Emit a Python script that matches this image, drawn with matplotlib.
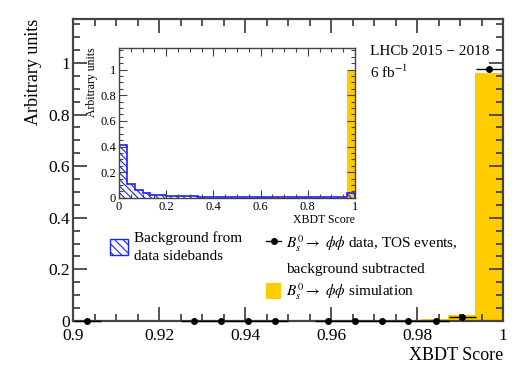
"""
XBDT score: background-subtracted data vs simulation, with inset of full range.
"""

import matplotlib.pyplot as plt
import numpy as np
from matplotlib.lines import Line2D
from matplotlib.patches import Patch
from matplotlib.ticker import MultipleLocator, FuncFormatter

plt.rcParams["font.family"] = ["Liberation Serif", "DejaVu Serif"]
plt.rcParams["mathtext.fontset"] = "stix"
plt.rcParams["hatch.linewidth"] = 0.8

YELLOW = "#ffcc00"
BLUE = "#1f1fff"
AXCOL = "#444444"

# ── Main panel: simulation histogram (zoomed 0.9 - 1) ────────────────────────
sim_edges = [0.9, 0.9064, 0.9126, 0.9188, 0.9251, 0.9313, 0.9375, 0.9437,
             0.9499, 0.9561, 0.9623, 0.9686, 0.9748, 0.9810, 0.9872, 0.9934, 1.0]
sim_vals = [0.0, 0.001, 0.001, 0.001, 0.001, 0.001, 0.001, 0.001,
            0.001, 0.001, 0.002, 0.002, 0.003, 0.006, 0.021, 0.962]

# ── Main panel: background-subtracted data points ────────────────────────────
data_x = [0.9033, 0.9282, 0.9345, 0.9407, 0.9469, 0.9593, 0.9655,
          0.9718, 0.9780, 0.9843, 0.9905, 0.9967]
data_y = [0.0, 0.0, 0.0, 0.0, 0.0, 0.0, 0.0,
          0.0, 0.0, 0.0, 0.014, 0.976]
data_xerr = [0.0031] * len(data_x)
data_yerr = [0.0, 0.0, 0.0, 0.0, 0.0, 0.0, 0.0,
             0.0, 0.0, 0.0, 0.002, 0.006]

# ── Inset: full range 0 - 1 ─────────────────────────────────────────────────
inset_edges = [i / 30 for i in range(31)]
bkg_vals = [0.415, 0.110, 0.058, 0.040, 0.026, 0.025, 0.018, 0.016, 0.013, 0.011,
            0.009, 0.008, 0.007, 0.007, 0.006, 0.006, 0.006, 0.005, 0.005, 0.005,
            0.004, 0.004, 0.005, 0.004, 0.004, 0.004, 0.004, 0.005, 0.006, 0.035]
inset_sim_vals = [0.0] * 29 + [0.985]


def fmt(v, pos):
    return f"{v:g}"


def style_axes(ax, lw, major, minor, size):
    for s in ax.spines.values():
        s.set_color(AXCOL)
        s.set_linewidth(lw)
    ax.tick_params(which="both", direction="in", top=True, right=True,
                   color=AXCOL, width=lw * 0.8, labelsize=size)
    ax.tick_params(which="major", length=major)
    ax.tick_params(which="minor", length=minor)
    ax.xaxis.set_major_formatter(FuncFormatter(fmt))
    ax.yaxis.set_major_formatter(FuncFormatter(fmt))


fig = plt.figure(figsize=(5.29, 3.82), dpi=100)
ax = fig.add_axes([0.138, 0.160, 0.813, 0.790])

ax.stairs(sim_vals, sim_edges, fill=True, color=YELLOW, lw=0)
ax.errorbar(data_x, data_y, xerr=data_xerr, yerr=data_yerr, fmt="o",
            color="black", ms=4, lw=1.0, capsize=0, zorder=5, clip_on=False)

ax.set_xlim(0.9, 1.0)
ax.set_ylim(0, 1.17)
ax.xaxis.set_major_locator(MultipleLocator(0.02))
ax.xaxis.set_minor_locator(MultipleLocator(0.005))
ax.yaxis.set_major_locator(MultipleLocator(0.2))
ax.yaxis.set_minor_locator(MultipleLocator(0.05))
style_axes(ax, 1.6, 10, 5, 12.5)
ax.tick_params(axis="x", pad=5)
ax.tick_params(axis="y", pad=2)
ax.set_xlabel("XBDT Score", fontsize=13, loc="right", labelpad=2)
ax.set_ylabel("Arbitrary units", fontsize=13, loc="top", labelpad=5)

ax.text(0.69, 0.893, "LHCb 2015 − 2018", transform=ax.transAxes,
        fontsize=11, va="center", ha="left")
ax.text(0.69, 0.822, "6 fb$^{-1}$", transform=ax.transAxes,
        fontsize=11, va="center", ha="left")

# legends
h_bkg = Patch(facecolor="none", edgecolor=BLUE, hatch="\\\\\\\\", lw=1.0)
leg1 = ax.legend([h_bkg], ["Background from\ndata sidebands"],
                 loc="upper left", bbox_to_anchor=(0.085, 0.297),
                 frameon=False, fontsize=11, borderpad=0, borderaxespad=0,
                 handlelength=1.2, handleheight=1.2, handletextpad=0.4)
leg1.get_texts()[0].set_linespacing(1.45)
ax.add_artist(leg1)

h_data = Line2D([0], [0], color="black", marker="o", ms=4, lw=1.0)
h_blank = Line2D([0], [0], color="none")
h_sim = Patch(facecolor=YELLOW, edgecolor="none")
ax.legend([h_data, h_blank, h_sim],
          [r"$B_s^0 \to\ \phi\phi$ data, TOS events,",
           "background subtracted",
           r"$B_s^0 \to\ \phi\phi$ simulation"],
          loc="upper left", bbox_to_anchor=(0.449, 0.29),
          frameon=False, fontsize=11, borderpad=0, borderaxespad=0,
          handlelength=1.0, handleheight=1.3, handletextpad=0.3,
          labelspacing=0.35)

# ── Inset ────────────────────────────────────────────────────────────────────
ins = fig.add_axes([0.225, 0.482, 0.446, 0.393])
ins.stairs(inset_sim_vals, inset_edges, fill=True, color=YELLOW, lw=0)
ins.stairs(bkg_vals, inset_edges, fill=True, facecolor="none",
           edgecolor=BLUE, hatch="\\\\\\\\\\", lw=0)
ins.stairs(bkg_vals, inset_edges, color=BLUE, lw=1.2)
ins.set_xlim(0, 1)
ins.set_ylim(0, 1.17)
ins.xaxis.set_major_locator(MultipleLocator(0.2))
ins.xaxis.set_minor_locator(MultipleLocator(0.05))
ins.yaxis.set_major_locator(MultipleLocator(0.2))
ins.yaxis.set_minor_locator(MultipleLocator(0.05))
style_axes(ins, 1.0, 6, 3, 9)
ins.tick_params(axis="x", pad=2)
ins.tick_params(axis="y", pad=2)
ins.set_xlabel("XBDT Score", fontsize=8.5, loc="right", labelpad=1)
ins.set_ylabel("Arbitrary units", fontsize=8.5, loc="top", labelpad=1.5)

fig.savefig("out.png", dpi=100)
